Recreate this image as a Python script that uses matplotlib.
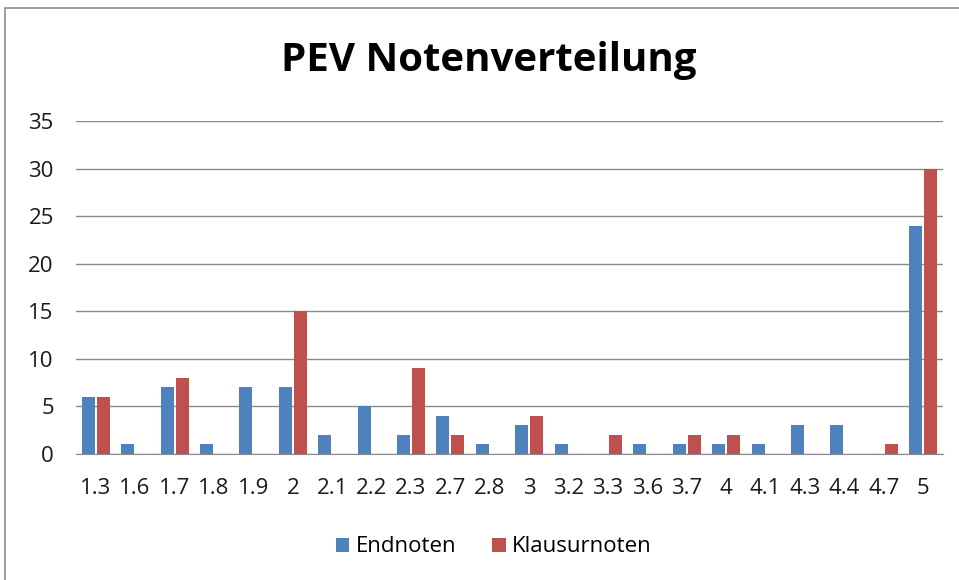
import matplotlib
matplotlib.use("Agg")
import matplotlib.pyplot as plt
import numpy as np
from matplotlib.patches import Rectangle

categories = ["1.3", "1.6", "1.7", "1.8", "1.9", "2", "2.1", "2.2", "2.3", "2.7", "2.8",
              "3", "3.2", "3.3", "3.6", "3.7", "4", "4.1", "4.3", "4.4", "4.7", "5"]
endnoten = [6, 1, 7, 1, 7, 7, 2, 5, 2, 4, 1, 3, 1, 0, 1, 1, 1, 1, 3, 3, 0, 24]
klausurnoten = [6, 0, 8, 0, 0, 15, 0, 0, 9, 2, 0, 4, 0, 2, 0, 2, 2, 0, 0, 0, 1, 30]
yticks = [0, 5, 10, 15, 20, 25, 30, 35]

plt.rcParams['font.family'] = ['Open Sans', 'DejaVu Sans']

fig = plt.figure(figsize=(9.59, 5.8), dpi=100)
fig.patches.append(Rectangle((5/959, -0.01), 1.0, (580-8)/580 + 0.01, transform=fig.transFigure,
                             fill=False, edgecolor='#8c8c8c', linewidth=1.2))
ax = fig.add_axes([76/959, (580-454)/580, (943-76)/959, (454-121)/580])

x = np.arange(len(categories))
w = 0.33
ax.bar(x - 0.19, endnoten, width=w, color='#4F81BD', label='Endnoten', zorder=3)
ax.bar(x + 0.19, klausurnoten, width=w, color='#C0504D', label='Klausurnoten', zorder=3)

ax.set_xlim(-0.5, len(categories) - 0.5)
ax.set_ylim(0, 35)
ax.set_yticks(yticks)
ax.set_xticks(x)
ax.set_xticklabels(categories)
ax.tick_params(axis='both', length=0, labelsize=16, colors='#1a1a1a')
ax.tick_params(axis='x', pad=17)
ax.tick_params(axis='y', pad=16)
ax.grid(axis='y', color='#8a8a8a', linewidth=1.0, zorder=0)
for s in ['top', 'right', 'left']:
    ax.spines[s].set_visible(False)
ax.spines['bottom'].set_color('#8a8a8a')

fig.text(489/959, 1 - 60/580, 'PEV Notenverteilung', ha='center', va='center',
         fontsize=29, fontweight='bold', color='black')

fig.legend(loc='center', bbox_to_anchor=(494/959, 1 - 547/580), ncol=2, frameon=False,
           fontsize=16, handlelength=0.6, handleheight=0.6, handletextpad=0.3, columnspacing=1.6)

fig.savefig('out.png', dpi=100)
